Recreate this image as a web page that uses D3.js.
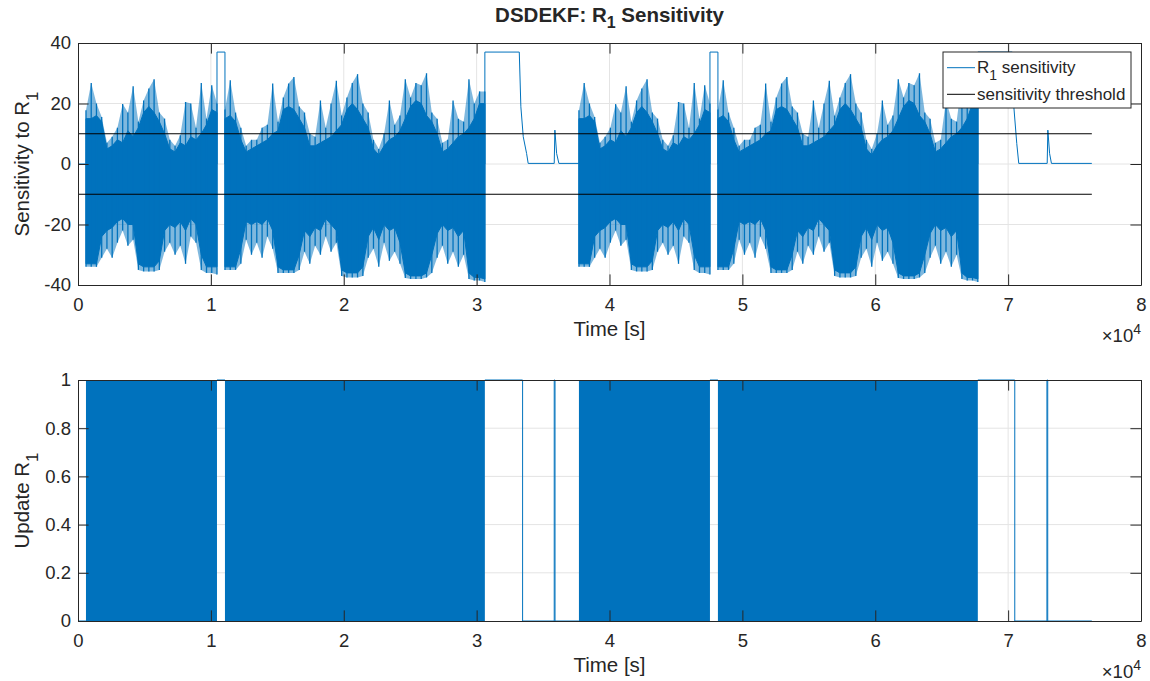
<!DOCTYPE html>
<html>
<head>
<meta charset="utf-8">
<script src="https://cdn.jsdelivr.net/npm/d3@7"></script>
<style>
  body { margin: 0; background: #fff; }
  svg text { font-family: "Liberation Sans", Arial, Helvetica, sans-serif; fill: #262626; }
</style>
</head>
<body>
<div id="chart"></div>
<script>

// time is in units of 1e4 s (the axis shows a x10^4 multiplier)

// dense oscillation blocks: start / end time and profile used
var bandStart = [0.060, 1.106, 3.770, 4.816];
var bandEnd   = [1.046, 3.062, 4.756, 6.772];
var bandProfile = ["A", "B", "A", "B"];   // the second drive cycle repeats the first

// per bin, evenly spaced over each block:
// peak / trough of the spikes, and top / bottom of the solid body
var profAHi = [17.8, 26.8, 20, 15.5, 7, 9, 12, 19.8, 17, 25.7, 14, 21, 25, 28, 17, 15, 8, 6, 9.5, 20.5, 20, 12, 26.8, 15, 26, 20];
var profABodyHi = [15, 15, 16, 14, 5, 6, 8, 7, 11, 9, 12, 17, 19, 17, 14, 10, 5, 4, 7, 6, 9, 8, 10, 13, 18, 17];
var profABodyLo = [-33, -33, -33, -24, -22, -21, -19, -18, -20, -20, -33, -34, -34, -34, -32, -22, -20, -21, -19, -22, -18, -20, -30, -34, -34, -34];
var profALo = [-34, -34, -34, -31, -28, -31, -26, -22, -27, -25, -35, -35.5, -35.5, -35.5, -35, -29, -26, -30, -27, -33, -24, -26, -35, -36, -36, -36.5];

var profBHi = [18, 27.7, 17, 12, 6, 8, 8, 12, 13, 26.6, 14, 22, 26.6, 28.8, 19, 17, 10, 9, 21, 12, 20, 27.5, 16, 22, 26.8, 29.7, 20, 17, 8, 5, 10, 21, 13, 16, 28, 22, 26.8, 26, 30, 17, 15, 7, 8, 21, 15, 14, 28, 20, 24, 24];
var profBBodyHi = [15, 16, 14, 8, 4, 5, 6, 7, 8, 10, 11, 18, 19, 18, 15, 12, 6, 6, 7, 8, 9, 11, 13, 18, 20, 18, 15, 12, 5, 3, 6, 8, 9, 11, 15, 19, 21, 20, 16, 14, 10, 4, 5, 7, 9, 10, 12, 15, 20, 20];
var profBBodyLo = [-34, -34, -34, -28, -19, -20, -19, -20, -18, -22, -34, -35, -35, -35, -30, -22, -24, -21, -22, -18, -20, -22, -35, -36, -36, -36, -34, -24, -21, -25, -20, -22, -21, -26, -36, -37, -37, -37, -36, -30, -23, -20, -22, -21, -24, -22, -36, -37.5, -37.5, -38];
var profBLo = [-35, -35, -35, -33, -25, -30, -26, -31, -24, -28, -36, -36, -36, -36, -35, -29, -33, -27, -30, -24, -29, -26, -37, -37.5, -37.5, -37.5, -37, -31, -28, -34, -26, -32, -29, -33, -37.7, -38, -38, -38, -37.5, -36, -31, -27, -33, -29, -34, -30, -38, -38.5, -38.5, -39];

// sensitivity outside the dense blocks [t, value]
var sensLead  = [[0, 0], [0.060, 0]];
var sensGap1  = [[1.046, 0], [1.046, 37], [1.106, 37], [1.106, 0]];
var sensTail1 = [[3.062, 0], [3.062, 37], [3.321, 37], [3.333, 18.9], [3.351, 9], [3.376, 3.5], [3.388, 0.2],
                 [3.584, 0.2], [3.589, 11.2], [3.602, 3.5], [3.619, 0.2], [3.770, 0.2]];
var sensGap2  = [[4.756, 0], [4.756, 37], [4.816, 37], [4.816, 0]];
var sensTail2 = [[6.772, 0], [6.772, 37], [7.031, 37], [7.043, 18.9], [7.065, 6.8], [7.080, 0.2],
                 [7.294, 0.2], [7.299, 11.2], [7.312, 3.5], [7.326, 0.2], [7.630, 0.2]];

// update flag outside the dense blocks [t, flag]
var updLead  = [[0, 0], [0.060, 0]];
var updGap1  = [[1.046, 1], [1.106, 1]];
var updTail1 = [[3.062, 1], [3.346, 1], [3.346, 0], [3.584, 0], [3.584, 1], [3.590, 1], [3.590, 0], [3.770, 0]];
var updGap2  = [[4.756, 1], [4.816, 1]];
var updTail2 = [[6.772, 1], [7.050, 1], [7.050, 0], [7.292, 0], [7.292, 1], [7.298, 1], [7.298, 0], [7.630, 0]];

var thresholds = [10, -10];
var thresholdSpan = [0, 7.630];

var xTicks = [0, 1, 2, 3, 4, 5, 6, 7, 8];
var sensTicks = [-40, -20, 0, 20, 40];
var updTicks = [0, 0.2, 0.4, 0.6, 0.8, 1];

var blue = "#0072BD";
var axisColor = "#262626";
var gridColor = "#e4e4e4";
var tickLen = 10.6;

var svg = d3.select("#chart").append("svg")
    .attr("width", 1150)
    .attr("height", 681);

var x = d3.scaleLinear().domain([0, 8]).range([78, 1141]);
var yTop = d3.scaleLinear().domain([-40, 40]).range([285, 43]);
var yBot = d3.scaleLinear().domain([0, 1]).range([621, 380]);

var profiles = {
  A: [profAHi, profABodyHi, profABodyLo, profALo],
  B: [profBHi, profBBodyHi, profBBodyLo, profBLo]
};

function bandPoints(k) {
  var p = profiles[bandProfile[k]];
  var n = p[0].length, t0 = bandStart[k], t1 = bandEnd[k];
  return p[0].map(function (h, i) {
    return { t: t0 + i * (t1 - t0) / (n - 1), hi: h, bodyHi: p[1][i], bodyLo: p[2][i], lo: p[3][i] };
  });
}

function drawGrid(g, y, yTicks) {
  var top = y.range()[1], bottom = y.range()[0];
  var left = x.range()[0], right = x.range()[1];

  g.append("g").selectAll("line").data(xTicks.slice(1, -1)).enter().append("line")
    .attr("x1", function (d) { return x(d); }).attr("x2", function (d) { return x(d); })
    .attr("y1", top).attr("y2", bottom)
    .attr("stroke", gridColor).attr("stroke-width", 1);
  g.append("g").selectAll("line").data(yTicks.slice(1, -1)).enter().append("line")
    .attr("y1", function (d) { return y(d); }).attr("y2", function (d) { return y(d); })
    .attr("x1", left).attr("x2", right)
    .attr("stroke", gridColor).attr("stroke-width", 1);
}

function drawAxes(g, y, yTicks, yLabel, xLabelBase) {
  var top = y.range()[1], bottom = y.range()[0];
  var left = x.range()[0], right = x.range()[1];
  var fmt = function (d) { return String(d); };

  var xb = g.append("g").attr("transform", "translate(0," + bottom + ")")
    .call(d3.axisBottom(x).tickValues(xTicks).tickFormat(fmt).tickSizeInner(-tickLen).tickSizeOuter(0).tickPadding(13));
  var xt = g.append("g").attr("transform", "translate(0," + top + ")")
    .call(d3.axisTop(x).tickValues(xTicks).tickFormat("").tickSizeInner(-tickLen).tickSizeOuter(0));
  var yl = g.append("g").attr("transform", "translate(" + left + ",0)")
    .call(d3.axisLeft(y).tickValues(yTicks).tickFormat(fmt).tickSizeInner(-tickLen).tickSizeOuter(0).tickPadding(7));
  var yr = g.append("g").attr("transform", "translate(" + right + ",0)")
    .call(d3.axisRight(y).tickValues(yTicks).tickFormat("").tickSizeInner(-tickLen).tickSizeOuter(0));

  [xb, xt, yl, yr].forEach(function (a) {
    a.attr("font-family", null).attr("font-size", null);
    a.selectAll("path.domain").attr("stroke", axisColor).attr("stroke-width", 1);
    a.selectAll(".tick line").attr("stroke", axisColor).attr("stroke-width", 1);
    a.selectAll(".tick text").style("font-size", "18.5px").attr("fill", axisColor);
  });

  // x label
  g.append("text")
    .attr("x", (left + right) / 2).attr("y", xLabelBase)
    .attr("text-anchor", "middle")
    .style("font-size", "20.5px")
    .text("Time [s]");

  // x10^4 multiplier
  var m = g.append("text")
    .attr("x", right).attr("y", xLabelBase + 6)
    .attr("text-anchor", "end")
    .style("font-size", "18.5px");
  m.append("tspan").text("\u00d710");
  m.append("tspan").attr("dy", -8).style("font-size", "14px").text("4");

  // y label
  var yt = g.append("text")
    .attr("transform", "translate(29," + (top + bottom) / 2 + ") rotate(-90)")
    .attr("text-anchor", "middle")
    .style("font-size", "20.5px");
  yt.append("tspan").text(yLabel);
  yt.append("tspan").attr("dy", 9).style("font-size", "17px").text("1");
}

// ---------- top panel: sensitivity ----------
var topG = svg.append("g");
drawGrid(topG, yTop, sensTicks);

var bands = bandStart.map(function (s, k) { return bandPoints(k); });

// loose spiky fringe between the peaks (partly covered, so drawn translucent)
var fringeArea = d3.area()
  .x(function (d) { return x(d.t); })
  .y0(function (d) { return yTop(d.lo); })
  .y1(function (d) { return yTop(d.hi); });

topG.append("g").selectAll("path").data(bands).enter().append("path")
  .attr("d", fringeArea)
  .attr("fill", blue)
  .attr("fill-opacity", 0.5);

// solid body of the oscillation
var bodyArea = d3.area()
  .x(function (d) { return x(d.t); })
  .y0(function (d) { return yTop(d.bodyLo); })
  .y1(function (d) { return yTop(d.bodyHi); });

topG.append("g").selectAll("path").data(bands).enter().append("path")
  .attr("d", bodyArea)
  .attr("fill", blue)
  .attr("stroke", blue)
  .attr("stroke-width", 1);

// single spikes reaching out of the body
var spikeG = topG.append("g").attr("stroke", blue).attr("stroke-width", 1.3);
bands.forEach(function (pts) {
  spikeG.selectAll(null).data(pts).enter().append("line")
    .attr("x1", function (d) { return x(d.t); }).attr("x2", function (d) { return x(d.t); })
    .attr("y1", function (d) { return yTop(d.hi); }).attr("y2", function (d) { return yTop(d.lo); });
});

var sensLine = d3.line()
  .x(function (d) { return x(d[0]); })
  .y(function (d) { return yTop(d[1]); });

topG.append("g").selectAll("path").data([sensLead, sensGap1, sensTail1, sensGap2, sensTail2]).enter().append("path")
  .attr("d", sensLine)
  .attr("fill", "none")
  .attr("stroke", blue)
  .attr("stroke-width", 1);

topG.append("g").selectAll("line").data(thresholds).enter().append("line")
  .attr("x1", x(thresholdSpan[0])).attr("x2", x(thresholdSpan[1]))
  .attr("y1", function (d) { return yTop(d); }).attr("y2", function (d) { return yTop(d); })
  .attr("stroke", "#000").attr("stroke-width", 1);

drawAxes(topG, yTop, sensTicks, "Sensitivity to R", 336);

// legend
var lg = topG.append("g");
lg.append("rect")
  .attr("x", 943).attr("y", 52).attr("width", 188).attr("height", 56)
  .attr("fill", "#fff").attr("stroke", axisColor).attr("stroke-width", 1);
lg.append("line").attr("x1", 947).attr("x2", 975).attr("y1", 67.7).attr("y2", 67.7)
  .attr("stroke", blue).attr("stroke-width", 1);
lg.append("line").attr("x1", 947).attr("x2", 975).attr("y1", 94.3).attr("y2", 94.3)
  .attr("stroke", "#000").attr("stroke-width", 1);
var l1 = lg.append("text").attr("x", 977).attr("y", 72.5).style("font-size", "17px");
l1.append("tspan").text("R");
l1.append("tspan").attr("dy", 7).style("font-size", "14px").text("1");
l1.append("tspan").attr("dy", -7).text(" sensitivity");
lg.append("text").attr("x", 977).attr("y", 100).style("font-size", "17px").text("sensitivity threshold");

// title
var title = svg.append("text")
  .attr("x", (x.range()[0] + x.range()[1]) / 2).attr("y", 22)
  .attr("text-anchor", "middle")
  .style("font-size", "20.5px").style("font-weight", "bold");
title.append("tspan").text("DSDEKF: R");
title.append("tspan").attr("dy", 6).style("font-size", "16px").text("1");
title.append("tspan").attr("dy", -6).text(" Sensitivity");

// ---------- bottom panel: update flag ----------
var botG = svg.append("g");
drawGrid(botG, yBot, updTicks);

var updArea = d3.area()
  .x(function (d) { return x(d); })
  .y0(yBot(0))
  .y1(yBot(1));

botG.append("g").selectAll("path").data(bandStart.map(function (s, k) { return [s, bandEnd[k]]; })).enter().append("path")
  .attr("d", updArea)
  .attr("fill", blue);

var updLine = d3.line()
  .x(function (d) { return x(d[0]); })
  .y(function (d) { return yBot(d[1]); });

botG.append("g").selectAll("path").data([updLead, updGap1, updTail1, updGap2, updTail2]).enter().append("path")
  .attr("d", updLine)
  .attr("fill", "none")
  .attr("stroke", blue)
  .attr("stroke-width", 1);

drawAxes(botG, yBot, updTicks, "Update R", 672);

</script>
</body>
</html>
